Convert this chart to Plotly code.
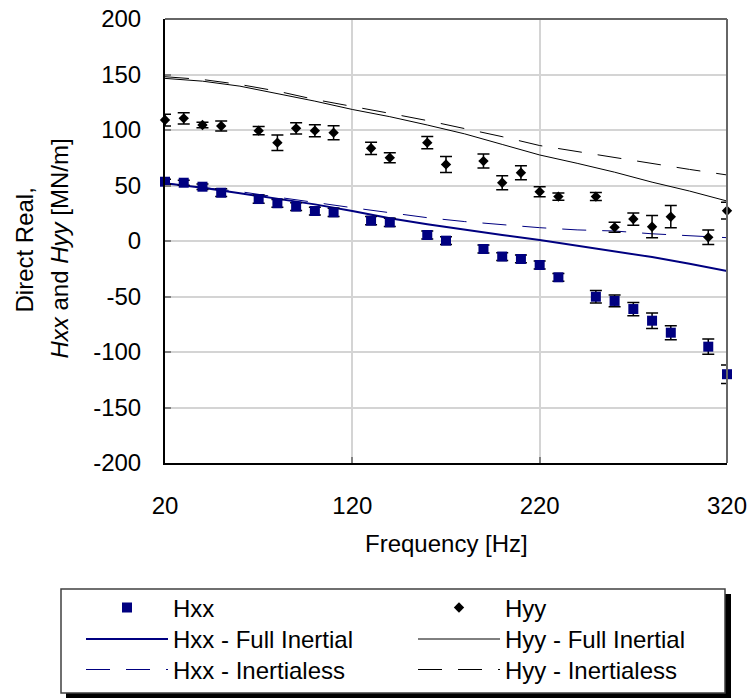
import plotly.graph_objects as go

# ---------------- data ----------------
freq = [20, 30, 40, 50, 70, 80, 90, 100, 110, 130, 140, 160, 170, 190, 200,
        210, 220, 230, 250, 260, 270, 280, 290, 310, 320]
hxx = [53.4, 52.5, 48.9, 43.5, 37.8, 34.0, 31.0, 27.0, 25.8, 18.3, 16.8, 5.4, 0.3,
       -7.2, -14.0, -16.2, -21.6, -32.7, -50.2, -54.0, -61.3, -71.8, -82.6, -95.2, -120.0]
hxx_err = [2.3, 2.3, 2.5, 3.5, 3.7, 3.5, 3.5, 3.5, 3.8, 3.7, 3.7, 3.7, 3.5,
           3.5, 3.5, 3.5, 3.6, 3.5, 5.7, 5.3, 6.0, 7.0, 6.3, 6.8, 8.3]
hyy = [109.0, 110.5, 104.5, 103.6, 99.4, 88.6, 101.5, 99.4, 97.6, 83.5, 75.0, 88.6, 69.0,
       72.0, 52.5, 61.5, 44.4, 40.0, 40.0, 12.3, 19.8, 12.9, 21.9, 3.3, 27.3]
hyy_err = [5.3, 5.0, 2.5, 4.5, 3.7, 7.0, 5.0, 5.4, 6.3, 5.5, 4.5, 5.5, 7.2,
           6.3, 6.3, 6.3, 4.5, 3.3, 3.6, 4.5, 5.5, 10.0, 10.0, 6.5, 7.5]

f_model = [20, 40, 60, 80, 100, 120, 140, 160, 180, 200, 220, 240, 260, 280, 300, 320]
hxx_full = [52, 48, 43, 38, 33, 27, 20.5, 15, 10, 5.5, 1, -4, -9, -14.5, -20.5, -27]
hxx_inertialess = [52, 48.5, 44.5, 39.5, 34.5, 30, 25.5, 21, 17.5, 14.5, 12, 10, 9, 6.5, 4.5, 3]
hyy_full = [146.5, 144, 139.5, 133, 126, 118.5, 112, 104.5, 96.5, 87, 77.5, 70, 62, 53, 45, 36]
hyy_inertialess = [148, 145.5, 141, 135, 127.5, 121.5, 115, 108.5, 101.5, 94, 86, 80.5, 75, 70, 64.5, 59.5]

x_ticks = [20, 120, 220, 320]
y_ticks = [-200, -150, -100, -50, 0, 50, 100, 150, 200]

# ---------------- layout geometry ----------------
W, H = 751, 698
L, R, T, B = 165, 24, 19, 235
PW = W - L - R
PH = H - T - B
NAVY = "#000080"
FONT = "Liberation Sans, Arial, sans-serif"


def px_x(px):
    return (px - L) / PW


def px_y(py):
    return (H - B - py) / PH


DASH = "24px,16px"

fig = go.Figure()

# model lines
fig.add_trace(go.Scatter(x=f_model, y=hxx_full, mode="lines", name="Hxx - Full Inertial",
                         line=dict(color=NAVY, width=2), legend="legend2"))
fig.add_trace(go.Scatter(x=f_model, y=hyy_full, mode="lines", name="Hyy - Full Inertial",
                         line=dict(color="black", width=1), legend="legend2"))
fig.add_trace(go.Scatter(x=f_model, y=hxx_inertialess, mode="lines", name="Hxx - Inertialess",
                         line=dict(color=NAVY, width=1, dash=DASH), legend="legend3"))
fig.add_trace(go.Scatter(x=f_model, y=hyy_inertialess, mode="lines", name="Hyy - Inertialess",
                         line=dict(color="black", width=1, dash=DASH), legend="legend3"))

# measured points
fig.add_trace(go.Scatter(x=freq, y=hxx, mode="markers", name="Hxx", cliponaxis=False,
                         marker=dict(symbol="square", size=10, color=NAVY),
                         error_y=dict(type="data", array=hxx_err, color="black",
                                      thickness=1.5, width=6),
                         legend="legend"))
fig.add_trace(go.Scatter(x=freq, y=hyy, mode="markers", name="Hyy", cliponaxis=False,
                         marker=dict(symbol="diamond", size=8, color="black"),
                         error_y=dict(type="data", array=hyy_err, color="black",
                                      thickness=1.5, width=6),
                         legend="legend"))


def leg(center_y):
    top = center_y - 22.1
    return dict(orientation="h", x=px_x(81), xanchor="left", y=px_y(top), yanchor="top",
                itemwidth=82, entrywidth=235, entrywidthmode="pixels",
                bgcolor="rgba(0,0,0,0)", borderwidth=0,
                font=dict(family=FONT, size=24, color="black"), itemclick=False,
                itemdoubleclick=False)


fig.update_layout(
    width=W, height=H,
    margin=dict(l=L, r=R, t=T, b=B, autoexpand=False),
    paper_bgcolor="white", plot_bgcolor="white",
    font=dict(family=FONT, size=24, color="black"),
    showlegend=True,
    legend=leg(607.5),
    legend2=leg(639),
    legend3=leg(669.5),
    xaxis=dict(range=[20, 320], tickvals=x_ticks, ticktext=[str(v) for v in x_ticks],
               showgrid=True, gridcolor="#d4d4d4", gridwidth=2,
               showline=True, linecolor="black", linewidth=2,
               ticks="inside", ticklen=6, tickwidth=2, tickcolor="#808080",
               zeroline=False, ticklabelstandoff=20,
               tickfont=dict(family=FONT, size=24, color="black")),
    yaxis=dict(range=[-200, 200], tickvals=y_ticks, ticktext=[str(v) for v in y_ticks],
               showgrid=True, gridcolor="#d4d4d4", gridwidth=2,
               showline=True, linecolor="black", linewidth=2,
               ticks="inside", ticklen=6, tickwidth=2, tickcolor="#808080",
               zeroline=False, ticklabelstandoff=17,
               tickfont=dict(family=FONT, size=24, color="black")),
    shapes=[
        dict(type="line", xref="paper", yref="paper", x0=0, x1=1, y0=1, y1=1,
             line=dict(color="#666666", width=2)),
        dict(type="line", xref="paper", yref="paper", x0=1, x1=1, y0=0, y1=1,
             line=dict(color="#666666", width=2)),
        dict(type="rect", xref="paper", yref="paper",
             x0=px_x(66), x1=px_x(731), y0=px_y(594), y1=px_y(699),
             fillcolor="black", line=dict(width=0)),
        dict(type="rect", xref="paper", yref="paper",
             x0=px_x(61), x1=px_x(725), y0=px_y(589), y1=px_y(693),
             fillcolor="white", line=dict(color="#404040", width=1.5)),
    ],
    annotations=[
        dict(text="Frequency [Hz]", xref="paper", yref="paper", x=0.5, y=px_y(543),
             xanchor="center", yanchor="middle", showarrow=False,
             font=dict(family=FONT, size=24, color="black")),
        dict(text="Direct Real,", xref="paper", yref="paper", x=px_x(24), y=px_y(250.5),
             xanchor="center", yanchor="middle", showarrow=False, textangle=-90,
             font=dict(family=FONT, size=24, color="black")),
        dict(text="<i>Hxx</i> and <i>Hyy</i> [MN/m]", xref="paper", yref="paper",
             x=px_x(59), y=px_y(248.5), xanchor="center", yanchor="middle",
             showarrow=False, textangle=-90,
             font=dict(family=FONT, size=24, color="black")),
    ],
)

fig.write_html("out.html")
